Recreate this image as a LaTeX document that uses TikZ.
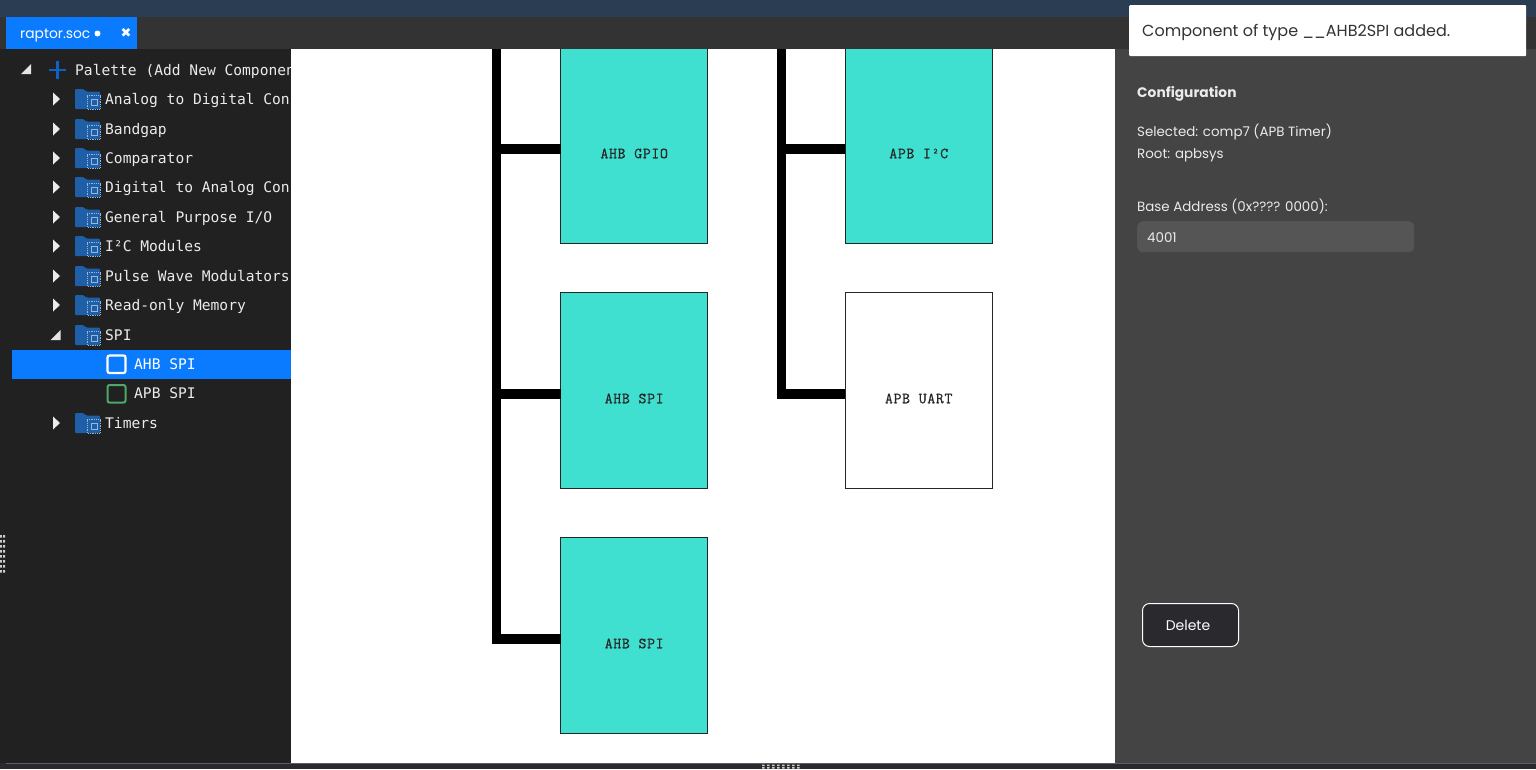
\documentclass[tikz,border=0pt]{standalone}
\usepackage{fontspec}
\usepackage{xcolor}
\usetikzlibrary{positioning}
\setmainfont{Poppins}
\newfontfamily\treefont{DejaVu Sans Mono}
\newfontfamily\blockfont[LetterSpace=3.9, FakeBold=0.5]{Latin Modern Mono}
\newfontfamily\iconfont{DejaVu Sans}
\definecolor{topstrip}{HTML}{2B3D52}
\definecolor{tabbar}{HTML}{333333}
\definecolor{sidepanel}{HTML}{212121}
\definecolor{confpanel}{HTML}{444444}
\definecolor{bottombar}{HTML}{2A2A2E}
\definecolor{selblue}{HTML}{0A7AFF}
\definecolor{folderblue}{HTML}{1F5FA8}
\definecolor{plusblue}{HTML}{0E62C4}
\definecolor{blockfill}{HTML}{3FE0D0}
\definecolor{fieldgray}{HTML}{555555}
\definecolor{toasttext}{HTML}{333333}
\definecolor{spigreen}{HTML}{4FA869}
\tikzset{
	block/.style={rectangle, draw=black!85, line width=1pt, fill=blockfill, minimum width=147pt, minimum height=196pt, inner sep=0pt, outer sep=0pt},
	plainblock/.style={block, fill=white},
	blocklabel/.style={font=\blockfont\fontsize{15.5}{15.5}\selectfont, text=black!85, inner sep=0pt},
	busline/.style={line width=9.5pt, black, line join=miter},
	treetext/.style={font=\treefont\fontsize{14.6}{15}\selectfont, text=white!92!black, anchor=base west, inner sep=0pt},
	conftext/.style={font=\fontsize{13.4}{14}\selectfont, text=white!92!black, anchor=base west, inner sep=0pt},
	pics/chipfolder/.style={code={
		\fill[folderblue, rounded corners=1pt] (-12.5,-10) -- (-4.5,-10) -- (-1,-7.5) -- (12.5,-7.5) -- (12.5,10) -- (-12.5,10) -- cycle;
		\draw[white!55!folderblue, line width=0.8pt, densely dotted] (-0.5,-3.5) rectangle (12.5,10);
		\draw[white!55!folderblue, line width=1pt] (3.5,0) rectangle (9.5,6.5);
	}}
}
\begin{document}
\begin{tikzpicture}[x=1pt, y=-1pt]
	\useasboundingbox (0,0) rectangle (1536,769);
	% window panels
	\fill[topstrip] (0,0) rectangle (1536,17);
	\fill[sidepanel] (0,49) rectangle (291,769);
	\fill[selblue] (12,350) rectangle (291,379);

	% palette tree
	\fill[white!90!black] (21,74) -- (31,74) -- (31,64) -- cycle;
	\draw[plusblue, line width=2.4pt] (49,70) -- (66,70) (57.5,61) -- (57.5,79);
	\node[treetext] (palette) at (75,75) {Palette (Add New Componen};
	\foreach \rowy/\rowname/\rowtext in {99/adc/Analog to Digital Con, 129/bandgap/Bandgap, 158/comp/Comparator, 187/dac/Digital to Analog Con, 217/gpioset/{General Purpose I/O}, 246/iicset/I²C Modules, 276/pwm/Pulse Wave Modulators, 305/rom/Read-only Memory, 335/spiset/SPI, 423/timers/Timers}{
		\pic at (87.5,\rowy) {chipfolder};
		\node[treetext] (\rowname) at (105,\rowy+5) {\rowtext};
	}
	\foreach \rowy in {99,129,158,187,217,246,276,305,423}
		\fill[white!92!black] (53,\rowy-6.5) -- (60,\rowy) -- (53,\rowy+6.5) -- cycle;
	\fill[white!90!black] (50.5,340) -- (60.5,340) -- (60.5,330) -- cycle;
	\draw[white, line width=2.2pt, rounded corners=2pt] (107.5,355.5) rectangle (125.5,373);
	\node[treetext, text=white] (ahbspi) at (134,369) {AHB SPI};
	\draw[spigreen, line width=2pt, rounded corners=2pt] (107.5,385) rectangle (125.5,402.5);
	\node[treetext] (apbspi) at (134,398) {APB SPI};

	% canvas
	\fill[white] (291,49) rectangle (1115,763);
	\node[block, anchor=north west] (gpio) at (560.7,47) {};
	\node[block, below=49pt of gpio] (spia) {};
	\node[block, below=49pt of spia] (spib) {};
	\node[block, right=137.5pt of gpio] (iic) {};
	\node[plainblock, below=49pt of iic] (uart) {};
	\node[blocklabel] (gpiolabel) at ([yshift=-8.5pt]gpio.center) {AHB GPIO};
	\node[blocklabel] (spialabel) at ([yshift=-8.5pt]spia.center) {AHB SPI};
	\node[blocklabel] (spiblabel) at ([yshift=-8.5pt]spib.center) {AHB SPI};
	\node[blocklabel] (iiclabel) at ([yshift=-8.5pt]iic.center) {APB I²C};
	\node[blocklabel] (uartlabel) at ([yshift=-8.5pt]uart.center) {APB UART};

	\coordinate (ahbtop) at (496.5,40);
	\coordinate (apbtop) at (781.5,40);
	\draw[busline] ([yshift=-4pt]spib.west) -| (ahbtop);
	\draw[busline] ([yshift=-4pt]spia.west) -| (ahbtop);
	\draw[busline] ([yshift=-4pt]gpio.west) -| (ahbtop);
	\draw[busline] ([yshift=-4pt]uart.west) -| (apbtop);
	\draw[busline] ([yshift=-4pt]iic.west) -| (apbtop);

	% tab bar
	\fill[tabbar] (0,17) rectangle (1536,49);
	\fill[selblue] (6,17) rectangle (137,49);
	\node[font=\fontsize{13.8}{15}\selectfont, text=white, anchor=base west, inner sep=0pt] (tabname) at (20,38) {raptor.soc};
	\node[circle, fill=white, inner sep=0pt, minimum size=6pt] (tabdot) at (97.5,33.5) {};
	\node[font=\iconfont\fontsize{13}{13}\selectfont, text=white, inner sep=0pt] (tabclose) at (126,33) {✖};

	% configuration panel
	\fill[confpanel] (1115,49) rectangle (1536,763);
	\node[conftext, font=\bfseries\fontsize{13.8}{14}\selectfont] (conftitle) at (1137,97) {Configuration};
	\node[conftext] (selected) at (1137,136) {Selected: comp7 (APB Timer)};
	\node[conftext] (rootname) at (1137,158) {Root: apbsys};
	\node[conftext] (baseaddr) at (1137,211) {Base Address (0x???? 0000):};
	\node[rectangle, fill=fieldgray, rounded corners=6pt, minimum width=277pt, minimum height=31pt, inner sep=0pt, anchor=north west] (addrfield) at (1137,221) {};
	\node[conftext] (addrvalue) at (1147,242) {4001};
	\node[rectangle, draw=white, line width=1pt, fill=bottombar, rounded corners=7pt, minimum width=96pt, minimum height=43pt, inner sep=0pt, font=\fontsize{14}{14}\selectfont, text=white, anchor=north west] (delbtn) at (1142,603) {\hspace*{-5pt}Delete};

	% toast
	\node[rectangle, fill=white, rounded corners=1pt, minimum width=397pt, minimum height=51pt, inner sep=0pt, anchor=north west] (toast) at (1129,5) {};
	\node[font=\fontsize{16}{16}\selectfont, text=toasttext, anchor=base west, inner sep=0pt] (toasttxt) at (1142,36) {Component of type \_\_AHB2SPI added.};

	% bottom bar and grips
	\fill[bottombar] (0,763) rectangle (1536,769);
	\draw[white!25!bottombar, line width=0.6pt] (6,763.3) -- (1536,763.3);
	\foreach \gripy in {535,540,...,570}
		\fill[white!80!black] (0,\gripy) rectangle (1.8,\gripy+2.6) (3,\gripy) rectangle (5,\gripy+2.6);
	\foreach \gripx in {762,767,...,797}
		\fill[white!80!black] (\gripx,764.5) rectangle (\gripx+2.6,766) (\gripx,767) rectangle (\gripx+2.6,768.5);
\end{tikzpicture}
\end{document}
